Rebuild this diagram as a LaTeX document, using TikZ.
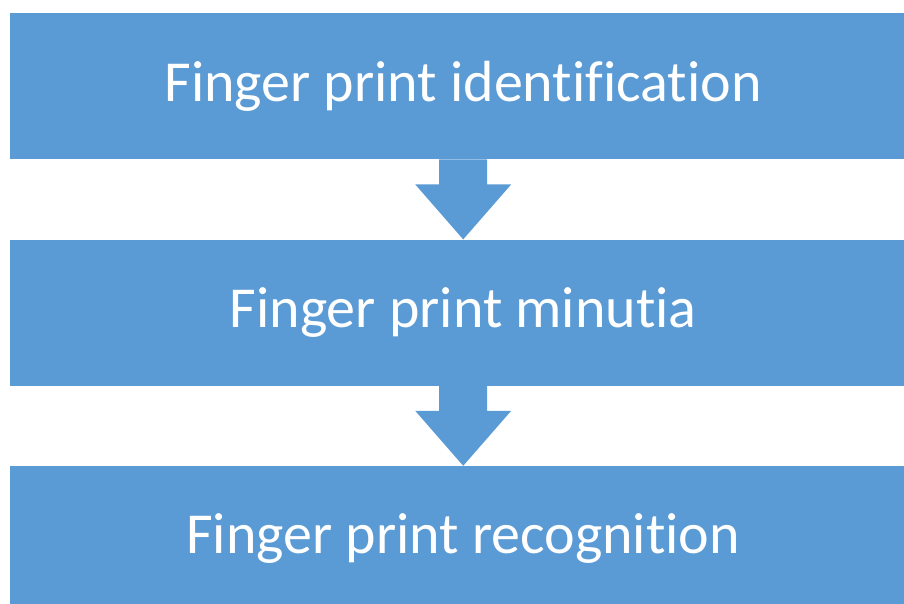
\documentclass[tikz,border=0pt]{standalone}
\usepackage{fontspec}
\setmainfont[RawFeature={-liga;-clig;-dlig}]{Carlito}
\usetikzlibrary{positioning,calc}
\definecolor{stageblue}{RGB}{91,155,213}
\tikzset{
  stage/.style={fill=stageblue,text=white,font=\fontsize{58}{70}\selectfont,
    minimum width=906pt,minimum height=146pt,inner sep=0pt},
}

\begin{document}
\begin{tikzpicture}[x=1pt,y=1pt,node distance=80pt]
\useasboundingbox (0,0) rectangle (904,-604);
\node[stage,anchor=north west] (s0) at (10,-13) {Finger print identification};
\node[stage,below=of s0] (s1) {Finger print minutia};
\node[stage,below=of s1] (s2) {Finger print recognition};
\foreach \a/\b in {s0/s1,s1/s2}
  \fill[stageblue] ($(\a.south)+(-24,0)$) -- ($(\a.south)+(24,0)$) -- ($(\a.south)+(24,-25)$)
    -- ($(\a.south)+(48,-25)$) -- (\b.north) -- ($(\a.south)+(-48,-25)$) -- ($(\a.south)+(-24,-25)$) -- cycle;
\end{tikzpicture}
\end{document}
